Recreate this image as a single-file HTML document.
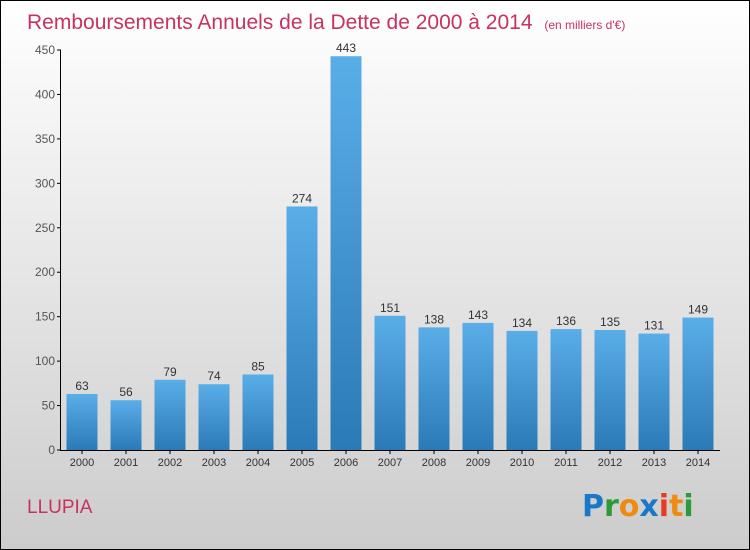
<!DOCTYPE html>
<html><head><meta charset="utf-8"><style>
body{margin:0}
svg{display:block;font-family:"Liberation Sans",sans-serif}
</style></head><body>
<svg width="750" height="550" viewBox="0 0 750 550">
<defs>
<linearGradient id="bg" x1="0" y1="0" x2="0" y2="1"><stop offset="0" stop-color="#ffffff"/><stop offset="1" stop-color="#cccccc"/></linearGradient>
<linearGradient id="bar" x1="0" y1="0" x2="0" y2="1"><stop offset="0" stop-color="#5aaee8"/><stop offset="1" stop-color="#2a7ab8"/></linearGradient>
</defs>
<rect x="0.5" y="0.5" width="749" height="549" fill="url(#bg)" stroke="#000"/>
<text x="27" y="29" font-size="21" fill="#c8325f">Remboursements Annuels de la Dette de 2000 à 2014 <tspan font-size="12" dx="6">(en milliers d'€)</tspan></text>
<g id="axes"></g>
<g id="bars"></g>
<text x="27" y="513" font-size="19" fill="#c8325f">LLUPIA</text>
<g font-size="30" font-weight="bold" font-family="'DejaVu Sans',sans-serif">
<text x="582" y="516" fill="#1a78c8">P<tspan fill="#2a9a3a">r</tspan><tspan fill="#f08a10">o</tspan><tspan fill="#1a78c8">x</tspan><tspan fill="#e83a20">i</tspan><tspan fill="#f08a10">t</tspan><tspan fill="#2a9a3a">i</tspan></text>
</g>
</svg>
<script>
const categories=["2000","2001","2002","2003","2004","2005","2006","2007","2008","2009","2010","2011","2012","2013","2014"];
const values=[63,56,79,74,85,274,443,151,138,143,134,136,135,131,149];
const yTicks=[0,50,100,150,200,250,300,350,400,450];
const NS="http://www.w3.org/2000/svg";
const y=v=>450-v*400/450;
const x=i=>82+i*44;
function mk(t,a,p){const e=document.createElementNS(NS,t);for(const k in a)e.setAttribute(k,a[k]);p.appendChild(e);return e;}
const ax=document.getElementById('axes'),bg=document.getElementById('bars');
yTicks.forEach(t=>{
 const l=mk('line',{x1:57,x2:61,y1:y(t),y2:y(t),stroke:'#000'},ax);
 
 
 const tx=mk('text',{x:55,y:y(t)+4,'text-anchor':'end','font-size':12,fill:'#555'},ax);
 tx.textContent=t;
 
 
});
const ya=mk('line',{x1:60.5,x2:60.5,y1:50,y2:450,stroke:'#000'},ax);


const xa=mk('line',{x1:60,x2:720,y1:450.5,y2:450.5,stroke:'#000'},ax);


categories.forEach((c,i)=>{
 const tk=mk('line',{x1:x(i),x2:x(i),y1:450,y2:454,stroke:'#000'},ax);
 
 
 const tx=mk('text',{x:x(i),y:466,'text-anchor':'middle','font-size':11,fill:'#333'},ax);
 tx.textContent=c;
 
 
 const v=values[i];
 const r=mk('rect',{x:x(i)-15.5,y:y(v),width:31,height:450-y(v),fill:'url(#bar)'},bg);
 
 
 const vl=mk('text',{x:x(i),y:y(v)-4,'text-anchor':'middle','font-size':12,fill:'#333'},bg);
 vl.textContent=v;
 
 
});
</script>
</body></html>
